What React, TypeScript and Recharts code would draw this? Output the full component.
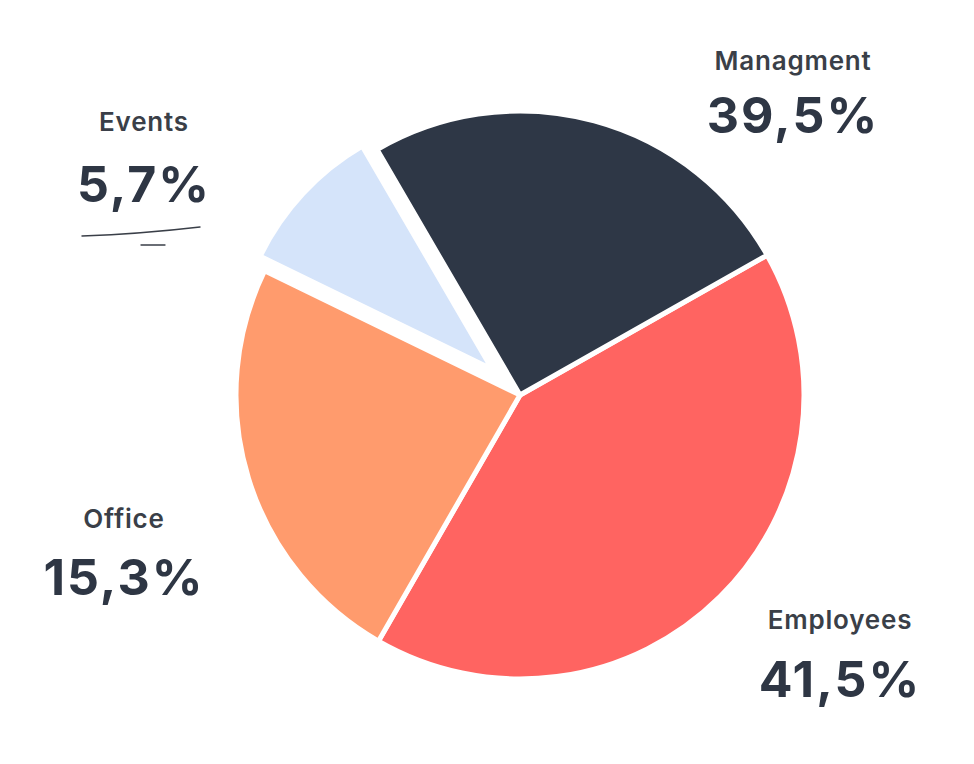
import React from 'react';
import { PieChart, Pie, Cell } from 'recharts';

// slice order follows the drawing, clockwise from the right edge of Managment
const categories = ['Employees', 'Office', 'Events', 'Managment'];
// share of the circle as drawn (visual angles)
const shares = [41.5, 23.9, 9.4, 25.2];
// percentages printed on the picture
const shownLabels = ['41,5%', '15,3%', '5,7%', '39,5%'];
const colors = ['#ff6461', '#ff9b6d', '#d5e4fa', '#2e3746'];

const data = categories.map((name, i) => ({ name, value: shares[i] }));

const CX = 520;
const CY = 395;
const START = 29.5;
const EXPLODED = 'Events';

// label blocks: centre x, top of name, top of percent
const labelPos: Record<string, { x: number; nameTop: number; pctTop: number }> = {
  Managment: { x: 793, nameTop: 45, pctTop: 87 },
  Events: { x: 144, nameTop: 106, pctTop: 156 },
  Office: { x: 124, nameTop: 503, pctTop: 549 },
  Employees: { x: 840, nameTop: 604, pctTop: 651 },
};

const total = shares.reduce((a, b) => a + b, 0);
const explIdx = categories.indexOf(EXPLODED);
const before = shares.slice(0, explIdx).reduce((a, b) => a + b, 0);
const midAngle = START - ((before + shares[explIdx] / 2) / total) * 360;
const rad = (midAngle * Math.PI) / 180;
const OFFSET = 38;
const ecx = CX + OFFSET * Math.cos(rad);
const ecy = CY - OFFSET * Math.sin(rad);

const textColor = '#2e3644';

export default function App() {
  return (
    <div style={{ position: 'absolute', left: 0, top: 0, width: 974, height: 764, background: '#fff', fontFamily: 'Inter, sans-serif' }}>
      <PieChart width={974} height={764} margin={{ top: 0, right: 0, bottom: 0, left: 0 }}>
        <Pie
          data={data}
          dataKey="value"
          nameKey="name"
          cx={CX}
          cy={CY}
          outerRadius={284}
          startAngle={START}
          endAngle={START - 360}
          stroke="#fff"
          strokeWidth={5}
          isAnimationActive={false}
        >
          {data.map((d, i) => (
            <Cell
              key={d.name}
              fill={d.name === EXPLODED ? 'none' : colors[i]}
              stroke={d.name === EXPLODED ? 'none' : '#fff'}
            />
          ))}
        </Pie>
        <Pie
          data={data}
          dataKey="value"
          nameKey="name"
          cx={ecx}
          cy={ecy}
          outerRadius={258}
          startAngle={START}
          endAngle={START - 360}
          stroke="#fff"
          strokeWidth={5}
          isAnimationActive={false}
        >
          {data.map((d, i) => (
            <Cell
              key={d.name}
              fill={d.name === EXPLODED ? colors[i] : 'none'}
              stroke={d.name === EXPLODED ? '#fff' : 'none'}
            />
          ))}
        </Pie>
      </PieChart>

      {categories.map((name, i) => {
        const p = labelPos[name];
        return (
          <React.Fragment key={name}>
            <div
              style={{
                position: 'absolute',
                left: p.x - 150,
                width: 300,
                top: p.nameTop,
                textAlign: 'center',
                fontSize: 26,
                fontWeight: 600,
                letterSpacing: 0.8,
                color: '#3a3f48',
                lineHeight: '32px',
              }}
            >
              {name}
            </div>
            <div
              style={{
                position: 'absolute',
                left: p.x - 150,
                width: 300,
                top: p.pctTop,
                textAlign: 'center',
                fontSize: 50,
                fontWeight: 700,
                letterSpacing: 2,
                color: textColor,
                lineHeight: '56px',
              }}
            >
              {shownLabels[i]}
            </div>
          </React.Fragment>
        );
      })}

      <svg width={974} height={764} style={{ position: 'absolute', left: 0, top: 0, pointerEvents: 'none' }}>
        <path d="M82,236 Q140,234 200,227" stroke="#3a3f48" strokeWidth={1.4} fill="none" strokeLinecap="round" />
        <path d="M141,245 L165,245" stroke="#3a3f48" strokeWidth={1.3} fill="none" strokeLinecap="round" />
      </svg>
    </div>
  );
}
